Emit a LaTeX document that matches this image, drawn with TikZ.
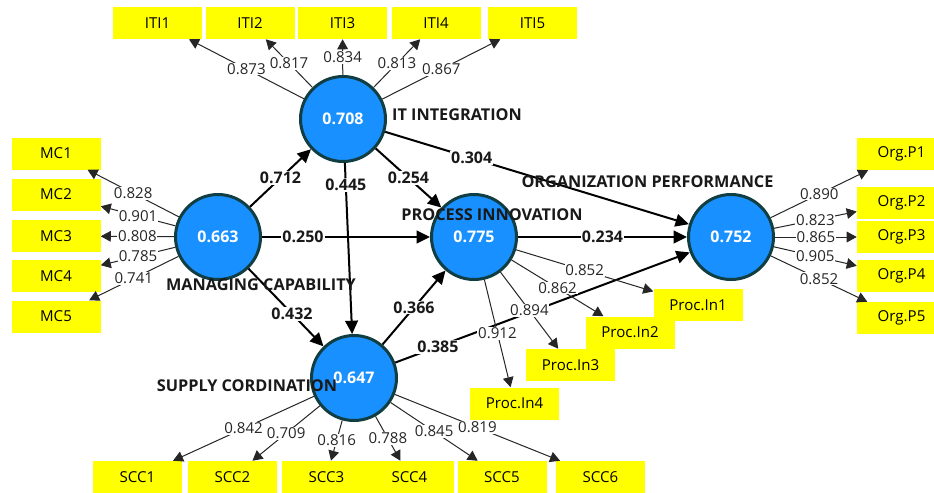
\documentclass[tikz,border=0pt]{standalone}
\usepackage{fontspec}
\setmainfont{Open Sans}
\usetikzlibrary{arrows.meta}
\definecolor{lvfill}{RGB}{24,144,255}
\definecolor{lvborder}{RGB}{16,62,66}
\definecolor{indyellow}{RGB}{255,255,0}
\begin{document}
\begin{tikzpicture}[x=0.75pt,y=-0.75pt,
  lv/.style={circle,draw=lvborder,line width=2.25pt,fill=lvfill,minimum size=63.75pt,inner sep=0pt,text=white,font=\fontsize{12}{14}\selectfont\bfseries},
  ind/.style={rectangle,fill=indyellow,minimum width=66.75pt,minimum height=24pt,inner sep=0pt,font=\fontsize{11.3}{13}\selectfont},
  lname/.style={font=\fontsize{12.2}{14}\selectfont\bfseries,inner sep=0pt,text=black!90},
  load/.style={draw=black!85,line width=0.75pt,-{Triangle[length=7.5pt,width=8pt]}},
  lload/.style={fill=white,inner sep=0.6pt,font=\fontsize{11.3}{13}\selectfont,text=black!85},
  structpath/.style={draw=black,line width=1.5pt,-{Triangle[length=10pt,width=9.5pt]}},
  coef/.style={fill=white,inner sep=0.8pt,font=\fontsize{12}{14}\selectfont\bfseries,text=black!90}
]
\fill[white] (0,0) rectangle (934,492);
\useasboundingbox (0,0) rectangle (934,492);

% indicators
\node[ind] (iti1) at (157.5,23) {ITI1};
\node[ind] (iti2) at (250,23) {ITI2};
\node[ind] (iti3) at (342.5,23) {ITI3};
\node[ind] (iti4) at (436,23) {ITI4};
\node[ind] (iti5) at (532.5,23) {ITI5};
\node[ind] (mc1) at (56,153.5) {MC1};
\node[ind] (mc2) at (56,194.5) {MC2};
\node[ind] (mc3) at (56,236) {MC3};
\node[ind] (mc4) at (56,276) {MC4};
\node[ind] (mc5) at (56,316.5) {MC5};
\node[ind] (org1) at (901.5,154) {Org.P1};
\node[ind] (org2) at (901.5,202.5) {Org.P2};
\node[ind] (org3) at (901.5,237) {Org.P3};
\node[ind] (org4) at (901.5,276) {Org.P4};
\node[ind] (org5) at (901.5,318) {Org.P5};
\node[ind] (pin1) at (698,305) {Proc.In1};
\node[ind] (pin2) at (630,332.5) {Proc.In2};
\node[ind] (pin3) at (570.5,365) {Proc.In3};
\node[ind] (pin4) at (514.5,403.5) {Proc.In4};
\node[ind] (scc1) at (137.5,477) {SCC1};
\node[ind] (scc2) at (232.5,477) {SCC2};
\node[ind] (scc3) at (326.5,477) {SCC3};
\node[ind] (scc4) at (409.5,477) {SCC4};
\node[ind] (scc5) at (502,477) {SCC5};
\node[ind] (scc6) at (600.5,477) {SCC6};

% latent variables
\node[lv] (it) at (343,119) {0.708};
\node[lv] (mc) at (218,237) {0.663};
\node[lv] (pi) at (474,237) {0.775};
\node[lv] (op) at (731,237) {0.752};
\node[lv] (sc) at (354,378) {0.647};

% structural paths
\draw[structpath] (mc) -- node[coef,pos=0.5] {0.712} (it);
\draw[structpath] (mc) -- node[coef,pos=0.244] {0.250} (pi);
\draw[structpath] (mc) -- node[coef,pos=0.58] {0.432} (sc);
\draw[structpath] (it) -- node[coef,pos=0.128] {0.445} (sc);
\draw[structpath] (it) -- node[coef,pos=0.5] {0.254} (pi);
\draw[structpath] (it) -- node[coef,pos=0.285] {0.304} (op);
\draw[structpath] (pi) -- node[coef,pos=0.5] {0.234} (op);
\draw[structpath] (sc) -- node[coef,pos=0.5] {0.366} (pi);
\draw[structpath] (sc) -- node[coef,pos=0.145] {0.385} (op);

% outer loadings
\draw[load] (it) -- node[lload] {0.873} (iti1);
\draw[load] (it) -- node[lload] {0.817} (iti2);
\draw[load] (it) -- node[lload] {0.834} (iti3);
\draw[load] (it) -- node[lload] {0.813} (iti4);
\draw[load] (it) -- node[lload] {0.867} (iti5);
\draw[load] (mc) -- node[lload] {0.828} (mc1);
\draw[load] (mc) -- node[lload] {0.901} (mc2);
\draw[load] (mc) -- node[lload] {0.808} (mc3);
\draw[load] (mc) -- node[lload] {0.785} (mc4);
\draw[load] (mc) -- node[lload] {0.741} (mc5);
\draw[load] (op) -- node[lload] {0.890} (org1);
\draw[load] (op) -- node[lload] {0.823} (org2);
\draw[load] (op) -- node[lload] {0.865} (org3);
\draw[load] (op) -- node[lload] {0.905} (org4);
\draw[load] (op) -- node[lload] {0.852} (org5);
\draw[load] (pi) -- node[lload] {0.852} (pin1);
\draw[load] (pi) -- node[lload] {0.862} (pin2);
\draw[load] (pi) -- node[lload] {0.894} (pin3);
\draw[load] (pi) -- node[lload] {0.912} (pin4);
\draw[load] (sc) -- node[lload] {0.842} (scc1);
\draw[load] (sc) -- node[lload] {0.709} (scc2);
\draw[load] (sc) -- node[lload] {0.816} (scc3);
\draw[load] (sc) -- node[lload] {0.788} (scc4);
\draw[load] (sc) -- node[lload] {0.845} (scc5);
\draw[load] (sc) -- node[lload] {0.819} (scc6);

% construct names
\node[lname] (nit) at (457,115) {IT INTEGRATION};
\node[lname] (nmc) at (261,285) {MANAGING CAPABILITY};
\node[lname] (npi) at (492,215) {PROCESS INNOVATION};
\node[lname] (nop) at (647.5,182) {ORGANIZATION PERFORMANCE};
\node[lname] (nsc) at (247,386) {SUPPLY CORDINATION};
\end{tikzpicture}
\end{document}
